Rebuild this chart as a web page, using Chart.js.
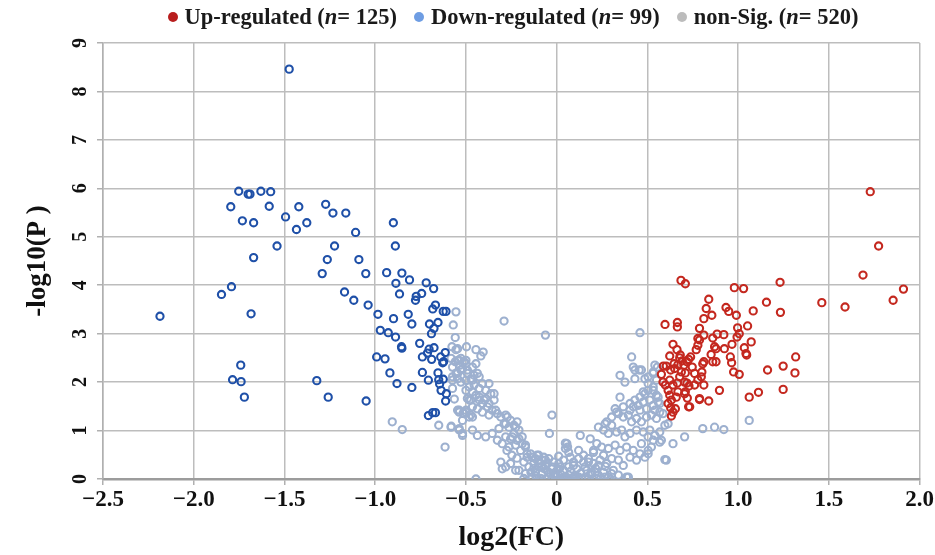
<!DOCTYPE html>
<html>
<head>
<meta charset="utf-8">
<script src="https://cdn.jsdelivr.net/npm/chart.js@4.4.1/dist/chart.umd.min.js"></script>
<style>
  body { margin: 0; background: #fff; }
  #wrap { position: relative; width: 935px; height: 555px; }
  #legend {
    position: absolute; left: 103px; width: 820px; top: 4px;
    display: flex; justify-content: center; gap: 17px;
    font: bold 22.5px "Liberation Serif", "Times New Roman", serif; color: #1a1a1a;
  }
  #legend .item { display: flex; align-items: center; white-space: nowrap; }
  #legend .dot { width: 10px; height: 10px; border-radius: 50%; margin-right: 7px; }
</style>
</head>
<body>
<div id="wrap">
  <canvas id="volcano" width="935" height="555"></canvas>
  <div id="legend"></div>
</div>
<script>
// =========================
//  DATA  (log2(FC), -log10(P))
// =========================
const seriesNames = ["Up-regulated", "Down-regulated", "non-Sig."];
const seriesCounts = [125, 99, 520];

const upRegulated = [
  [0.685,4.10],[0.709,4.03],[0.979,3.95],[1.030,3.93],[1.231,4.06],[0.838,3.71],[0.824,3.52],
  [0.855,3.38],[0.811,3.31],[0.933,3.54],[0.948,3.46],[0.990,3.38],[1.083,3.47],[1.156,3.65],
  [1.233,3.44],[0.597,3.19],[0.665,3.23],[0.665,3.14],[0.787,3.11],[0.778,2.90],[0.787,2.87],
  [0.811,2.97],[0.884,2.99],[0.921,2.98],[0.860,2.91],[0.997,3.12],[1.006,3.00],[0.994,2.93],
  [1.052,3.16],[1.072,2.83],[0.966,2.78],[0.924,2.69],[1.034,2.71],[1.047,2.56],[1.043,2.59],
  [0.878,2.69],[0.870,2.73],[0.769,2.67],[0.778,2.76],[0.641,2.78],[0.663,2.67],[0.623,2.54],
  [0.678,2.50],[0.681,2.56],[0.727,2.47],[0.738,2.52],[0.718,2.42],[0.805,2.38],[0.811,2.42],
  [0.851,2.57],[0.860,2.42],[0.878,2.42],[0.957,2.52],[0.964,2.40],[0.975,2.21],[1.006,2.16],
  [0.588,2.33],[0.604,2.33],[0.628,2.25],[0.647,2.38],[0.668,2.36],[0.692,2.44],[0.701,2.35],
  [0.687,2.21],[0.709,2.19],[0.747,2.31],[0.760,2.18],[0.800,2.21],[0.797,2.11],[0.811,1.94],
  [0.577,2.16],[0.586,2.00],[0.599,1.94],[0.623,2.04],[0.641,1.94],[0.665,1.98],[0.678,2.11],
  [0.718,1.98],[0.729,1.92],[0.760,1.94],[0.614,1.83],[0.623,1.73],[0.632,1.63],[0.659,1.69],
  [0.668,1.80],[0.709,1.80],[0.720,1.67],[0.614,1.56],[0.628,1.47],[0.641,1.38],[0.654,1.45],
  [0.632,1.30],[0.727,1.49],[0.787,1.64],[0.838,1.61],[0.897,1.83],[1.061,1.69],[1.112,1.79],
  [1.162,2.25],[1.248,2.33],[1.248,1.85],[1.317,2.52],[1.313,2.19],[1.728,5.93],[1.774,4.81],
  [1.688,4.21],[1.911,3.92],[1.854,3.69],[1.461,3.64],[1.589,3.55],[0.650,2.28],[0.705,2.00],
  [0.778,2.05],[0.705,1.76],[0.733,1.49],[0.787,1.66]
];

const downRegulated = [
  [-1.474,8.46],[-1.752,5.94],[-1.700,5.88],[-1.690,5.88],[-1.630,5.94],[-1.576,5.93],
  [-1.796,5.62],[-1.584,5.63],[-1.494,5.41],[-1.732,5.33],[-1.670,5.29],[-1.541,4.81],
  [-1.670,4.57],[-1.792,3.97],[-1.847,3.81],[-2.186,3.36],[-1.684,3.41],[-1.741,2.35],
  [-1.786,2.05],[-1.739,2.01],[-1.721,1.69],[-1.421,5.62],[-1.434,5.15],[-1.377,5.29],
  [-1.273,5.67],[-1.233,5.49],[-1.162,5.49],[-1.108,5.09],[-1.224,4.81],[-1.264,4.53],
  [-1.090,4.53],[-1.292,4.24],[-1.052,4.24],[-0.900,5.29],[-0.889,4.81],[-0.937,4.26],
  [-0.853,4.25],[-0.886,4.04],[-0.811,4.11],[-0.866,3.82],[-0.719,4.05],[-0.678,3.93],
  [-0.744,3.83],[-0.774,3.77],[-0.778,3.69],[-1.169,3.86],[-1.118,3.69],[-1.039,3.59],
  [-0.985,3.40],[-0.899,3.31],[-0.818,3.40],[-0.798,3.20],[-0.668,3.59],[-0.683,3.51],
  [-0.625,3.46],[-0.610,3.46],[-0.654,3.23],[-0.701,3.20],[-0.676,3.11],[-0.690,3.00],
  [-0.972,3.07],[-0.928,3.02],[-0.888,2.93],[-0.855,2.73],[-0.853,2.70],[-0.755,2.80],
  [-0.712,2.60],[-0.740,2.52],[-0.689,2.47],[-0.703,2.68],[-0.676,2.71],[-0.639,2.52],
  [-0.628,2.40],[-0.623,2.42],[-0.614,2.61],[-0.992,2.52],[-0.946,2.48],[-0.919,2.19],
  [-0.880,1.97],[-0.798,1.89],[-0.740,2.20],[-0.707,2.04],[-0.654,2.19],[-0.650,2.05],
  [-0.645,1.96],[-0.637,1.83],[-0.608,1.76],[-0.612,1.61],[-0.625,2.06],[-1.322,2.03],
  [-1.259,1.69],[-1.050,1.61],[-0.707,1.31],[-0.683,1.37],[-0.668,1.37]
];

const nonSignificant = [
  // outliers and left arm
  [-0.555,3.45],[-0.290,3.26],[-0.062,2.97],[-0.570,3.18],[-0.559,2.92],[-0.577,2.73],
  [-0.497,2.73],[-0.445,2.67],[-0.405,2.62],[-0.418,2.54],[-0.906,1.18],[-0.851,1.02],
  [-0.615,0.66],[-0.445,0.00],[-0.026,1.32],[-0.040,0.94],[0.048,0.74],[0.060,0.66],
  [-0.650,1.11],[-0.581,1.09],[-0.537,1.04],[-0.519,0.94],[-0.564,1.65],[-0.537,1.38],
  [-0.515,1.36],[-0.473,1.32],
  [-0.555,2.67],[-0.546,2.45],[-0.528,2.49],[-0.510,2.42],[-0.533,2.35],[-0.519,2.28],
  [-0.492,2.25],[-0.555,2.18],[-0.574,2.04],[-0.546,2.07],[-0.528,2.00],[-0.500,2.04],
  [-0.473,2.07],[-0.455,2.14],[-0.437,2.18],[-0.427,2.11],[-0.464,2.31],[-0.445,2.38],
  [-0.373,1.97],[-0.345,1.76],[-0.482,1.90],[-0.464,1.80],[-0.445,1.73],[-0.492,1.66],
  [-0.427,1.63],[-0.409,1.56],[-0.391,1.66],[-0.382,1.49],[-0.355,1.42],[-0.327,1.35],
  [-0.373,1.32],[-0.409,1.38],[-0.437,1.45],[-0.537,1.42],[-0.510,1.35],[-0.464,1.28],
  [-0.519,1.21],[-0.582,1.07],[-0.537,1.01],[-0.519,0.90],[-0.464,1.01],[-0.437,0.90],
  [-0.391,0.87],[-0.355,0.94],[-0.318,1.04],[-0.281,1.14],[-0.272,1.28],[-0.254,1.21],
  [-0.218,1.18],[-0.226,1.07],[-0.327,0.80],[-0.300,0.73],[-0.281,0.87],[-0.254,0.83],
  [-0.236,0.94],[-0.208,0.83],[-0.190,0.73],[-0.226,0.70],[-0.263,0.66],[-0.199,0.59],
  [-0.172,0.70],[-0.308,0.35],[-0.281,0.25],[-0.254,0.32],[-0.300,0.21],[-0.163,0.52],
  [-0.135,0.45],[-0.108,0.49],[-0.099,0.39],[-0.071,0.45],[-0.044,0.42],[-0.126,0.32],
  [-0.153,0.25],[-0.099,0.25],[-0.062,0.28],[-0.026,0.21],[0.002,0.18],[0.020,0.25],
  [-0.081,0.11],[-0.117,0.14],[-0.172,0.11],[-0.016,0.08],[-0.044,0.04],
  [-0.582,2.49],[-0.559,2.42],[-0.537,2.45],[-0.500,2.45],[-0.528,2.25],[-0.546,2.18],
  [-0.574,2.11],[-0.492,2.18],[-0.464,2.04],[-0.455,1.94],[-0.427,1.87],[-0.409,1.97],
  [-0.391,1.83],[-0.363,1.76],[-0.345,1.63],[-0.373,1.56],[-0.400,1.63],[-0.427,1.69],
  [-0.482,1.63],[-0.464,1.49],[-0.500,1.42],[-0.336,1.42],[-0.308,1.28],[-0.281,1.32],
  [-0.236,1.11],[-0.263,1.07],[-0.290,1.14],[-0.208,1.01],[-0.190,0.87],[-0.218,0.80],
  [-0.245,0.87],[-0.172,0.66],[-0.144,0.52],[-0.163,0.45],[-0.117,0.42],[-0.099,0.32],
  [-0.081,0.25],[-0.062,0.39],[-0.226,0.18],[-0.135,0.04],[-0.108,0.01],[-0.062,0.00],
  [-0.026,0.01],[-0.007,0.08],[0.020,0.00],[0.048,0.04],[0.075,0.00],[0.102,0.08],[0.121,0.00],
  [-0.546,2.69],[-0.500,2.38],[-0.574,2.31],[-0.574,1.87],[-0.500,1.83],[-0.473,1.63],
  [-0.546,1.42],[-0.500,1.38],[-0.482,1.28],
  // right arm
  [0.459,3.02],[0.413,2.52],[0.422,2.31],[0.455,2.25],[0.541,2.35],[0.532,2.21],[0.349,2.14],
  [0.376,2.00],[0.431,2.07],[0.486,2.07],[0.349,1.69],[0.477,1.80],[0.504,1.83],[0.532,1.83],
  [0.550,1.73],[0.513,1.63],[0.477,1.59],[0.449,1.52],[0.422,1.49],[0.404,1.42],[0.459,1.42],
  [0.495,1.45],[0.532,1.52],[0.559,1.59],[0.322,1.45],[0.340,1.35],[0.367,1.28],[0.395,1.32],
  [0.413,1.18],[0.440,1.25],[0.467,1.18],[0.495,1.28],[0.522,1.32],[0.550,1.25],[0.568,1.38],
  [0.586,1.35],[0.276,1.18],[0.303,1.11],[0.258,1.01],[0.285,0.94],[0.330,0.97],[0.358,1.01],
  [0.376,0.87],[0.404,0.94],[0.440,1.01],[0.477,0.97],[0.513,1.01],[0.541,0.90],[0.568,0.97],
  [0.568,0.76],[0.532,0.80],[0.130,0.90],[0.056,0.73],[0.048,0.63],[0.185,0.83],[0.221,0.73],
  [0.203,0.59],[0.248,0.66],[0.285,0.63],[0.322,0.70],[0.349,0.59],[0.385,0.66],[0.422,0.59],
  [0.459,0.52],[0.504,0.52],[0.404,0.45],[0.440,0.39],[0.604,0.39],[0.641,0.73],[0.075,0.45],
  [0.121,0.42],[0.148,0.35],[0.175,0.42],[0.203,0.32],[0.239,0.39],[0.276,0.32],[0.303,0.42],
  [0.340,0.39],[0.367,0.28],[0.312,0.18],[0.258,0.14],[0.212,0.14],[0.166,0.18],[0.111,0.21],
  [0.066,0.25],[-0.007,0.11],[0.038,0.04],[0.093,0.01],[0.157,0.04],[0.221,0.01],[0.285,0.04],
  [0.340,0.08],[0.395,0.04],
  [0.431,2.25],[0.504,1.97],[0.532,1.90],[0.550,2.04],[0.230,1.07],[0.267,1.14],[0.303,1.28],
  [0.330,1.38],[0.367,1.49],[0.404,1.56],[0.431,1.63],[0.459,1.69],[0.486,1.76],[0.596,1.11],
  [0.705,0.87],[0.805,1.04],[0.596,0.40],[0.504,0.59],[0.486,0.45],[0.385,0.04],[-0.099,0.49],
  [-0.053,0.32],[-0.026,0.25],[0.011,0.21],[0.038,0.18],[0.093,0.28],[0.157,0.25],[0.193,0.14],
  [0.230,0.08],[0.267,0.04],[0.303,0.11],[0.029,0.00],[0.139,0.00],[0.175,0.00],[0.121,0.04],
  [0.066,0.08],
  [0.467,2.25],[0.504,2.11],[0.532,2.18],[0.555,2.31],[0.559,1.69],[0.568,1.56],[0.541,1.42],
  [0.614,1.14],[1.061,1.21],[0.870,1.07],[0.921,1.02],[0.577,0.80],[0.504,0.87],[0.467,0.73],
  [0.522,0.66],
  // bottom of the V
  [-0.208,0.18],[-0.181,0.01],[-0.142,0.14],[-0.115,0.06],[-0.088,0.01],[-0.055,0.18],
  [-0.033,0.12],[-0.005,0.06],[0.022,0.10],[0.049,0.01],[0.077,0.16],[0.104,0.04],[0.132,0.12],
  [0.159,0.00],[0.186,0.10],[0.214,0.22],[0.241,0.00],[0.268,0.26],[0.296,0.00],[0.011,0.32],
  [0.038,0.39],[-0.016,0.35],[0.093,0.35],[0.148,0.49],[0.203,0.55],[0.258,0.49],[-0.071,0.22],
  [-0.126,0.22],[-0.181,0.35],[-0.219,0.43],[-0.247,0.49],[-0.274,0.59],[0.230,0.28],
  [0.175,0.35],[0.121,0.59],[0.066,0.55],[0.011,0.47]
];

const xTickLabels = ["\u22122.5", "\u22122.0", "\u22121.5", "\u22121.0", "\u22120.5", "0", "0.5", "1.0", "1.5", "2.0"];
const yTickLabels = ["0", "1", "2", "3", "4", "5", "6", "7", "8", "9"];

// =========================
//  STYLE
// =========================
const pointColors = ["#c4281f", "#1f50a8", "#9db0cf"];
const legendColors = ["#b81d1d", "#6e9de3", "#bcbcbc"];
const serif = '"Liberation Serif", "Times New Roman", serif';

// legend (HTML so the italic n stays real text)
const legendEl = document.getElementById("legend");
seriesNames.forEach((name, i) => {
  const item = document.createElement("div");
  item.className = "item";
  item.innerHTML = `<span class="dot" style="background:${legendColors[i]}"></span>${name} (<i>n</i>= ${seriesCounts[i]})`;
  legendEl.appendChild(item);
});

const toXY = (arr) => arr.map(([x, y]) => ({ x, y }));
const seriesData = [upRegulated, downRegulated, nonSignificant];

const datasets = seriesData.map((arr, i) => ({
  label: seriesNames[i],
  data: toXY(arr),
  borderColor: pointColors[i],
  backgroundColor: "rgba(0,0,0,0)",
  pointRadius: 3.6,
  pointBorderWidth: 2.1,
}));

new Chart(document.getElementById("volcano"), {
  type: "scatter",
  data: { datasets },
  options: {
    responsive: false,
    animation: false,
    layout: { padding: { top: 43, right: 12, left: 0, bottom: 0 } },
    plugins: { legend: { display: false }, tooltip: { enabled: false } },
    scales: {
      x: {
        type: "linear", min: -2.5, max: 2.0,
        afterBuildTicks: (s) => { s.ticks = xTickLabels.map((_, i) => ({ value: -2.5 + i * 0.5 })); },
        ticks: {
          color: "#111", padding: 1,
          font: { family: serif, size: 23, weight: "bold" },
          callback: (v, i) => xTickLabels[i],
        },
        grid: { color: "#bdbdbd", lineWidth: 1.5, tickLength: 6, tickColor: "#b0b0b0" },
        border: { color: "#9c9c9c", width: 2.5 },
        title: {
          display: true, text: "log2(FC)", color: "#111",
          font: { family: serif, size: 28, weight: "bold" },
          padding: { top: 0, bottom: 0 },
        },
        afterFit: (s) => { s.height = 76; },
      },
      y: {
        min: 0, max: 9,
        afterBuildTicks: (s) => { s.ticks = yTickLabels.map((_, i) => ({ value: i })); },
        ticks: {
          color: "#111", padding: 11, minRotation: 90, maxRotation: 90, crossAlign: "center",
          font: { family: serif, size: 20, weight: "bold" },
          callback: (v, i) => yTickLabels[i],
        },
        grid: { color: "#bdbdbd", lineWidth: 1.5, tickLength: 6, tickColor: "#b0b0b0" },
        border: { color: "#b0b0b0", width: 1.5 },
        title: {
          display: true, text: "-log10(P )", color: "#111",
          font: { family: serif, size: 27, weight: "bold" },
          padding: { top: 22, bottom: 0 },
        },
        afterFit: (s) => { s.width = 103; },
      },
    },
  },
});
</script>
</body>
</html>
